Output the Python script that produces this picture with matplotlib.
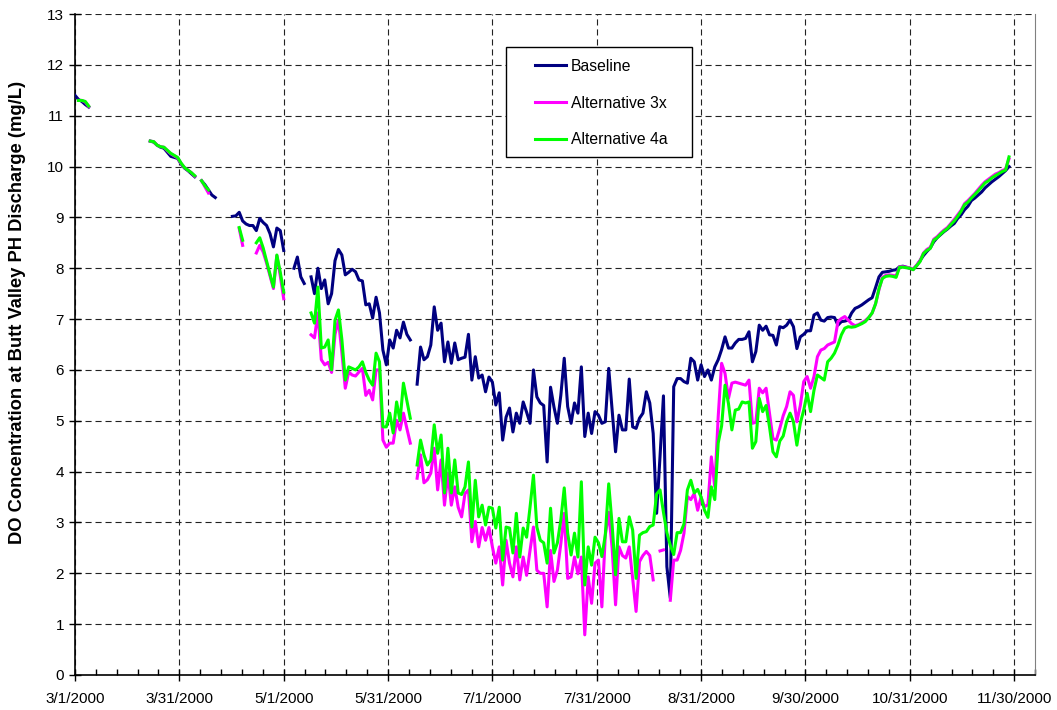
import numpy as np
import matplotlib
matplotlib.use("Agg")
import matplotlib.pyplot as plt
from matplotlib.patches import Rectangle
from matplotlib.ticker import FixedLocator, MultipleLocator

plt.rcParams['font.family'] = ['Liberation Sans', 'DejaVu Sans']

# daily DO values (mg/L) starting 3/1/2000, None = missing day
baseline = [
    11.40, 11.32, 11.28, 11.22, 11.17, None, None, None, None, None,
    None, None, None, None, None, None, None, None, None, None,
    None, None, 10.50, 10.48, 10.42, 10.38, 10.36, 10.28, 10.20, 10.18,
    10.16, 10.05, 9.97, 9.92, 9.86, 9.80, None, 9.72, 9.64, 9.54,
    9.44, 9.39, None, None, None, None, 9.02, 9.03, 9.10, 8.93,
    8.87, 8.84, 8.84, 8.74, 8.98, 8.90, 8.84, 8.68, 8.42, 8.79,
    8.74, 8.35, None, None, 8.00, 8.22, 7.83, 7.70, None, 7.83,
    7.50, 8.00, 7.60, 7.77, 7.30, 7.50, 8.15, 8.37, 8.26, 7.87,
    7.92, 7.98, 7.93, 7.77, 7.75, 7.28, 7.30, 7.02, 7.43, 7.12,
    6.39, 6.10, 6.59, 6.43, 6.78, 6.63, 6.94, 6.70, 6.59, None,
    5.72, 6.45, 6.20, 6.26, 6.49, 7.24, 6.78, 6.92, 6.16, 6.55,
    6.13, 6.53, 6.20, 6.23, 6.25, 6.70, 5.80, 6.26, 5.84, 5.90,
    5.57, 5.86, 5.76, 5.31, 5.55, 4.62, 5.07, 5.25, 4.78, 5.15,
    4.95, 5.37, 5.17, 4.95, 6.00, 5.47, 5.35, 5.30, 4.19, 5.66,
    5.27, 4.95, 5.50, 6.23, 5.28, 4.95, 5.35, 5.15, 6.06, 4.69,
    5.15, 4.75, 5.18, 5.11, 4.95, 4.98, 6.03, 5.21, 4.39, 5.11,
    4.82, 4.82, 5.82, 4.88, 4.85, 5.05, 5.15, 5.57, 5.35, 4.75,
    3.18, 4.30, 5.49, 2.13, 1.51, 5.67, 5.83, 5.83, 5.77, 5.74,
    6.23, 6.16, 5.80, 6.10, 5.87, 6.00, 5.80, 6.06, 6.20, 6.40,
    6.65, 6.43, 6.43, 6.53, 6.60, 6.60, 6.62, 6.75, 6.16, 6.36,
    6.88, 6.78, 6.86, 6.69, 6.68, 6.49, 6.85, 6.83, 6.88, 6.98,
    6.85, 6.42, 6.65, 6.70, 6.77, 6.77, 7.08, 7.12, 6.98, 6.96,
    7.03, 7.04, 7.03, 6.88, 6.95, 6.96, 6.98, 7.12, 7.21, 7.24,
    7.28, 7.33, 7.38, 7.42, 7.62, 7.83, 7.92, 7.93, 7.94, 7.96,
    7.97, 8.03, 8.04, 8.02, 8.00, 7.98, 8.05, 8.15, 8.25, 8.33,
    8.40, 8.52, 8.60, 8.66, 8.72, 8.77, 8.83, 8.88, 8.98, 9.05,
    9.15, 9.22, 9.33, 9.38, 9.44, 9.50, 9.58, 9.64, 9.70, 9.75,
    9.80, 9.86, 9.92, 10.00, None,
]

alt_3x = [
    None, 11.30, 11.30, 11.27, 11.18, None, None, None, None, None,
    None, None, None, None, None, None, None, None, None, None,
    None, None, 10.50, 10.49, 10.42, 10.39, 10.38, 10.31, 10.25, 10.21,
    10.17, 10.06, 9.98, 9.93, 9.88, 9.81, None, 9.72, 9.60, 9.48,
    None, None, None, None, None, None, None, None, 8.78, 8.45,
    None, None, None, 8.30, 8.45, 8.32, 8.10, 7.85, 7.60, 8.25,
    7.85, 7.40, None, None, None, None, None, None, None, 6.69,
    6.63, 7.12, 6.20, 6.10, 6.15, 5.95, 6.70, 6.98, 6.35, 5.64,
    5.96, 5.90, 5.88, 5.96, 6.03, 5.50, 5.60, 5.41, 6.00, 6.00,
    4.62, 4.48, 4.56, 4.56, 5.01, 4.82, 5.15, 4.85, 4.56, None,
    3.87, 4.33, 3.78, 3.84, 3.97, 4.46, 3.64, 4.23, 3.34, 3.97,
    3.34, 3.70, 3.30, 3.11, 3.57, 3.64, 2.62, 3.02, 2.52, 2.90,
    2.65, 2.90, 2.52, 2.20, 2.52, 1.77, 2.65, 2.20, 1.93, 2.52,
    1.87, 2.32, 1.96, 2.45, 2.91, 2.06, 2.00, 2.00, 1.34, 2.45,
    1.84, 2.06, 2.58, 3.18, 1.90, 1.93, 2.32, 1.99, 2.32, 0.79,
    1.93, 1.41, 2.20, 2.26, 1.34, 2.75, 3.20, 2.50, 1.38, 2.52,
    2.35, 2.30, 2.52, 1.90, 1.25, 2.23, 2.35, 2.43, 2.35, 1.87,
    None, 2.44, 2.46, None, 1.47, 2.26, 2.26, 2.45, 2.79, 3.51,
    3.45, 3.57, 3.24, 3.50, 3.31, 3.35, 4.29, 3.70, 5.08, 6.13,
    5.93, 5.44, 5.74, 5.76, 5.74, 5.72, 5.70, 5.80, 4.95, 4.97,
    5.64, 5.55, 5.64, 5.15, 4.65, 4.62, 4.85, 5.10, 5.28, 5.57,
    5.50, 4.98, 5.30, 5.77, 5.87, 5.64, 5.87, 6.26, 6.39, 6.42,
    6.49, 6.52, 6.55, 6.95, 7.01, 7.05, 6.98, 6.91, 6.87, 6.89,
    6.93, 6.97, 7.03, 7.12, 7.30, 7.58, 7.82, 7.86, 7.87, 7.86,
    7.85, 8.03, 8.03, 8.02, 8.01, 7.98, 8.06, 8.15, 8.30, 8.37,
    8.41, 8.57, 8.62, 8.69, 8.75, 8.80, 8.88, 8.96, 9.05, 9.14,
    9.27, 9.33, 9.40, 9.47, 9.55, 9.63, 9.70, 9.75, 9.80, 9.85,
    9.88, 9.92, 9.95, 10.15, None,
]

alt_4a = [
    None, 11.30, 11.30, 11.28, 11.19, None, None, None, None, None,
    None, None, None, None, None, None, None, None, None, None,
    None, None, 10.50, 10.49, 10.42, 10.39, 10.38, 10.32, 10.26, 10.22,
    10.18, 10.07, 9.98, 9.93, 9.88, 9.82, None, 9.72, 9.62, 9.54,
    None, None, None, None, None, None, None, None, 8.80, 8.55,
    None, None, None, 8.50, 8.60, 8.40, 8.14, 7.88, 7.63, 8.26,
    7.92, 7.53, None, None, None, None, None, None, None, 7.12,
    6.92, 7.63, 6.43, 6.45, 6.59, 6.00, 6.98, 7.18, 6.60, 5.80,
    6.06, 6.03, 6.00, 6.06, 6.16, 5.95, 5.80, 5.70, 6.33, 6.16,
    4.88, 4.88, 5.15, 4.76, 5.37, 5.00, 5.74, 5.40, 5.05, None,
    4.13, 4.62, 4.33, 4.13, 4.23, 4.92, 4.36, 4.72, 3.58, 4.46,
    3.58, 4.23, 3.58, 3.55, 3.70, 4.19, 2.91, 3.83, 3.11, 3.34,
    2.95, 3.30, 3.28, 2.89, 3.30, 2.26, 2.91, 2.89, 2.40, 3.18,
    2.32, 2.89, 2.71, 3.30, 3.93, 2.91, 2.65, 2.60, 2.20, 3.28,
    2.40, 2.60, 3.05, 3.68, 2.79, 2.36, 2.79, 2.32, 3.80, 1.77,
    2.52, 2.16, 2.71, 2.60, 2.33, 2.75, 3.76, 2.95, 1.97, 3.08,
    2.62, 2.62, 3.11, 2.85, 1.90, 2.75, 2.80, 2.82, 2.92, 2.95,
    3.56, 3.64, 3.20, 2.80, 2.55, 2.37, 2.80, 2.80, 2.97, 3.64,
    3.83, 3.58, 3.65, 3.50, 3.24, 3.10, 3.70, 3.45, 4.56, 4.90,
    5.70, 5.34, 4.82, 5.21, 5.23, 5.37, 5.35, 5.37, 4.46, 4.59,
    5.44, 5.18, 5.30, 4.88, 4.39, 4.29, 4.60, 4.70, 4.98, 5.15,
    4.98, 4.52, 4.95, 5.21, 5.54, 5.18, 5.60, 5.90, 5.85, 5.80,
    6.16, 6.23, 6.33, 6.49, 6.69, 6.82, 6.85, 6.84, 6.85, 6.88,
    6.91, 6.95, 7.03, 7.12, 7.30, 7.60, 7.80, 7.84, 7.85, 7.84,
    7.82, 8.02, 8.02, 8.01, 8.00, 7.97, 8.05, 8.13, 8.29, 8.35,
    8.39, 8.55, 8.60, 8.67, 8.73, 8.78, 8.86, 8.93, 9.02, 9.12,
    9.25, 9.30, 9.38, 9.45, 9.52, 9.60, 9.68, 9.72, 9.78, 9.82,
    9.86, 9.90, 9.93, 10.19, None,
]

series_names = ["Baseline", "Alternative 3x", "Alternative 4a"]
series_colors = ["#000080", "#FF00FF", "#00FF00"]

# x axis: days after 3/1/2000, major unit 30.5 days like the Excel chart
tick_labels = ["3/1/2000", "3/31/2000", "5/1/2000", "5/31/2000", "7/1/2000",
               "7/31/2000", "8/31/2000", "9/30/2000", "10/31/2000", "11/30/2000"]
major_step = 30.5
minor_step = 6.1

fig = plt.figure(figsize=(10.57, 7.10), dpi=100)
ax = fig.add_axes([75 / 1057, 35 / 710, 960 / 1057, 661 / 710])

days = np.arange(len(baseline))
for vals, name, col in zip([baseline, alt_3x, alt_4a], series_names, series_colors):
    ax.plot(days, np.array(vals, dtype=float), color=col, lw=2.2, label=name,
            solid_joinstyle='round', zorder=3)

ax.set_xlim(0, 280.6)
ax.set_ylim(0, 13)

xt = [i * major_step for i in range(len(tick_labels))]
ax.xaxis.set_major_locator(FixedLocator(xt))
ax.set_xticklabels(tick_labels)
ax.xaxis.set_minor_locator(MultipleLocator(minor_step))
ax.yaxis.set_major_locator(MultipleLocator(1))

ax.tick_params(axis='both', which='major', labelsize=11, direction='inout',
               length=8, width=1, color='black')
ax.tick_params(axis='x', which='minor', direction='in', length=4, width=1)
ax.tick_params(axis='x', which='major', pad=8)
ax.tick_params(axis='y', which='major', pad=4)

ax.grid(True, which='major', color='#222222', lw=0.8, linestyle=(0, (5.5, 3.5)))
ax.set_axisbelow(True)

for s in ['left', 'bottom']:
    ax.spines[s].set_linewidth(1.2)
ax.spines['top'].set_visible(False)
ax.spines['right'].set_color('#808080')

ax.set_ylabel("DO Concentration at Butt Valley PH Discharge (mg/L)",
              fontsize=13.2, fontweight='bold')
ax.yaxis.set_label_coords(-0.051, 0.548)

# legend box with wide padding
ax.add_patch(Rectangle((0.449, 0.784), 0.194, 0.166, transform=ax.transAxes,
                       facecolor='white', edgecolor='black', lw=1, zorder=5))
ax.legend(loc='upper left', bbox_to_anchor=(0.479, 0.932), frameon=False,
          fontsize=11.3, handlelength=2.0, handletextpad=0.3, labelspacing=1.38,
          borderpad=0, borderaxespad=0).set_zorder(6)

fig.savefig("out.png", dpi=100)
